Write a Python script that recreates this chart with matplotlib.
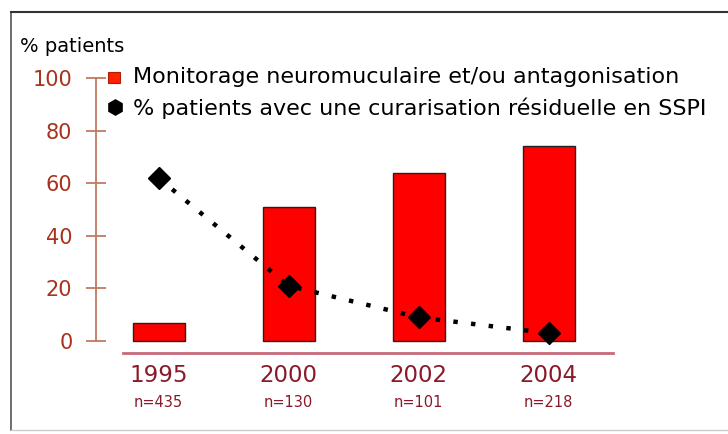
import matplotlib.pyplot as plt
import matplotlib.patches as mpatches
from matplotlib.lines import Line2D

years = ["1995", "2000", "2002", "2004"]
n_labels = ["n=435", "n=130", "n=101", "n=218"]
monitorage = [7, 51, 64, 74]
curarisation = [62, 21, 9, 3]
yticks = [0, 20, 40, 60, 80, 100]

W, H = 728, 434
fig = plt.figure(figsize=(W / 100, H / 100), dpi=100)
fig.patch.set_facecolor("white")

def px(x, y):
    return x / W, 1 - y / H

# frame
fig.add_artist(Line2D([11 / W, 11 / W], [1 - 12 / H, 1 - 430 / H], color="#555555", lw=1.2))
fig.add_artist(Line2D([11 / W, 1.0], [1 - 12 / H, 1 - 12 / H], color="#333333", lw=1.5))
fig.add_artist(Line2D([11 / W, 1.0], [1 - 430 / H, 1 - 430 / H], color="#cccccc", lw=1.0))

# axes geometry: y=0 at 341px, y=100 at 78px ; x center 0 at 158.5px, spacing 130px
ppu_y = (341 - 78) / 100
ppu_x = 130.0
ylo, yhi = -8, 102
xlo, xhi = (96 - 158.5) / ppu_x, (620 - 158.5) / ppu_x
bottom_px = 341 + (-ylo) * ppu_y
height_px = (yhi - ylo) * ppu_y
ax = fig.add_axes([96 / W, (H - bottom_px) / H, (xhi - xlo) * ppu_x / W, height_px / H])
ax.set_xlim(xlo, xhi)
ax.set_ylim(ylo, yhi)
ax.patch.set_alpha(0)

xs = list(range(len(years)))
ax.bar(xs, monitorage, width=0.4, color="#ff0000", edgecolor="#222222", linewidth=1.0, zorder=2)
ax.plot(xs, curarisation, color="black", linestyle=(0, (1, 3)), linewidth=3.2,
        marker="D", markersize=11, markerfacecolor="black", markeredgecolor="black", zorder=3)

for s in ["top", "right"]:
    ax.spines[s].set_visible(False)
ax.spines["left"].set_bounds(0, 100)
ax.spines["left"].set_color("#c07a60")
ax.spines["left"].set_linewidth(1.3)
ax.spines["bottom"].set_position(("data", -4.5))
ax.spines["bottom"].set_bounds((123 - 158.5) / ppu_x, (613 - 158.5) / ppu_x)
ax.spines["bottom"].set_color("#c86a7a")
ax.spines["bottom"].set_linewidth(2)

ax.set_yticks(yticks)
ax.set_yticklabels([str(v) for v in yticks])
ax.tick_params(axis="y", direction="inout", length=14, width=1.3, color="#c07a60",
               labelcolor="#a8321e", labelsize=15, pad=10)
ax.set_xticks([])

for x, yr, nl in zip(xs, years, n_labels):
    ax.annotate(yr, xy=(x, -4.5), xycoords="data", xytext=(0, -16.5), textcoords="offset points",
                ha="center", va="center", fontsize=16.5, color="#8a1a2a")
    ax.annotate(nl, xy=(x, -4.5), xycoords="data", xytext=(0, -36), textcoords="offset points",
                ha="center", va="center", fontsize=10.5, color="#8a1a2a")

fig.text(*px(20, 47), "% patients", fontsize=14, color="black", ha="left", va="center")

# legend
fig.add_artist(mpatches.Rectangle(px(108, 83), 12 / W, 11 / H, facecolor="#ff2000",
                                  edgecolor="#aa2200", lw=0.8))
fig.text(*px(133, 77), "Monitorage neuromuculaire et/ou antagonisation", fontsize=16,
         color="black", ha="left", va="center")
fig.add_artist(Line2D([115 / W], [1 - 107 / H], marker="h", markersize=11,
                      markerfacecolor="black", markeredgecolor="black"))
fig.text(*px(133, 108), "% patients avec une curarisation résiduelle en SSPI", fontsize=16,
         color="black", ha="left", va="center")

fig.savefig("out.png", dpi=100)
